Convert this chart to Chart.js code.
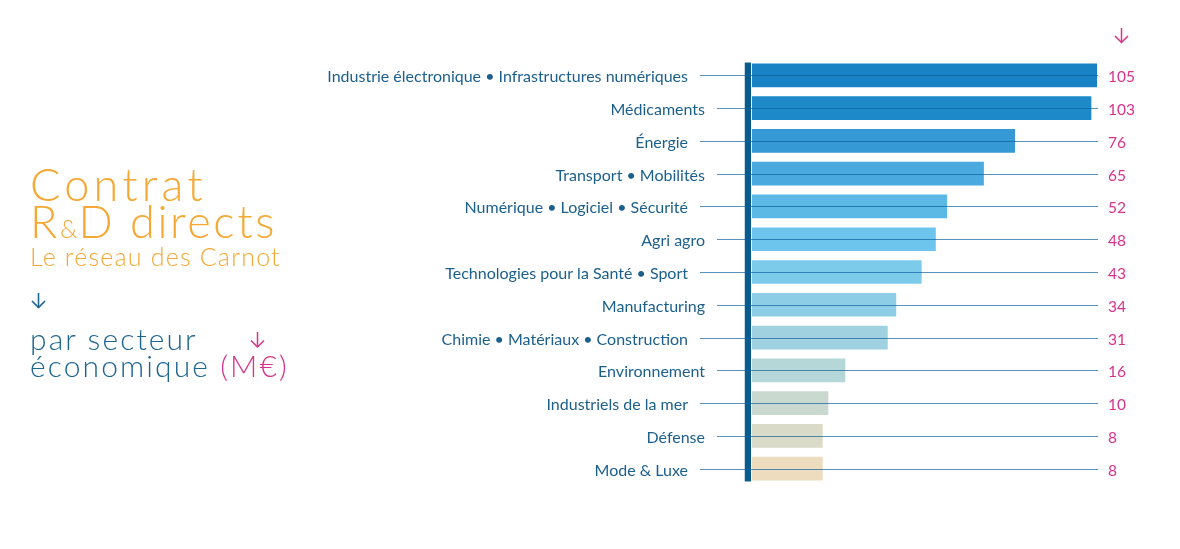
<!DOCTYPE html>
<html lang="fr">
<head>
<meta charset="utf-8">
<script src="https://cdn.jsdelivr.net/npm/chart.js@4.4.1/dist/chart.umd.min.js"></script>
<style>
  html, body { margin: 0; padding: 0; background: #fff; }
  #wrap { position: relative; width: 1180px; height: 549px; overflow: hidden; }
  #chart { position: absolute; left: 0; top: 0; }
  .t { position: absolute; white-space: nowrap; line-height: 1; font-family: Lato, "Open Sans", sans-serif; }
  .orange { color: #f5a833; font-weight: 300; }
  .blue { color: #1d6592; font-weight: 300; }
  .pink { color: #d8338b; }
  svg { position: absolute; overflow: visible; }
</style>
</head>
<body>
<div id="wrap">
  <canvas id="chart" width="1180" height="549"></canvas>

  <div class="t orange" style="left:30px; top:162px; font-size:45px; letter-spacing:4.2px;">Contrat</div>
  <div class="t orange" style="left:30px; top:199px; font-size:45px; letter-spacing:2.6px;">R<span style="font-size:25px; letter-spacing:1px;">&amp;</span>D directs</div>
  <div class="t orange" style="left:30px; top:244px; font-size:25px; letter-spacing:1.2px;">Le réseau des Carnot</div>

  <svg style="left:31px; top:293px;" width="15" height="16">
    <line x1="7.5" y1="0" x2="7.5" y2="14.5" stroke="#1d6592" stroke-width="1.6"/>
    <polyline points="1,8 7.5,14.5 14,8" fill="none" stroke="#1d6592" stroke-width="1.6"/>
  </svg>

  <div class="t blue" style="left:30px; top:323px; font-size:30px; letter-spacing:2.1px;">par secteur</div>
  <div class="t blue" style="left:30px; top:350px; font-size:30px; letter-spacing:2.1px;">économique <span class="pink">(M€)</span></div>

  <svg style="left:249px; top:332px;" width="17" height="16">
    <line x1="8.5" y1="0" x2="8.5" y2="15" stroke="#d8338b" stroke-width="1.5"/>
    <polyline points="2,8.5 8.5,15 15,8.5" fill="none" stroke="#d8338b" stroke-width="1.5"/>
  </svg>

  <svg style="left:1113px; top:28px;" width="17" height="15">
    <line x1="8.5" y1="0" x2="8.5" y2="14.5" stroke="#d8338b" stroke-width="1.5"/>
    <polyline points="2,8 8.5,14.5 15,8" fill="none" stroke="#d8338b" stroke-width="1.5"/>
  </svg>
</div>

<script>
// ---- data ----
const categories = [
  "Industrie électronique • Infrastructures numériques",
  "Médicaments",
  "Énergie",
  "Transport • Mobilités",
  "Numérique • Logiciel • Sécurité",
  "Agri agro",
  "Technologies pour la Santé • Sport",
  "Manufacturing",
  "Chimie • Matériaux • Construction",
  "Environnement",
  "Industriels de la mer",
  "Défense",
  "Mode & Luxe"
];
const values = [105, 103, 76, 65, 52, 48, 43, 34, 31, 16, 10, 8, 8];
const valueLabels = values.map(String);

// ---- styles ----
const barColors = [
  "#1882c4", "#1e89c9", "#3499d4", "#4aaadf", "#5cb9e6", "#6dc5ee",
  "#7ccbeb", "#8dcde6", "#a0d1e0", "#b5d7d8", "#c9d9d0", "#d9dac8", "#eedcbe"
];
const AXIS_MIN = -17.7;   // axis starts left of zero, as in the original
const AXIS_MAX = 105;
const labelFont = "16px Lato, 'Open Sans', sans-serif";
const valueFont = "15.5px Lato, 'Open Sans', sans-serif";

const decor = {
  id: "decor",
  afterDatasetsDraw(chart) {
    const ctx = chart.ctx;
    const xs = chart.scales.x, ys = chart.scales.y;
    const meta = chart.getDatasetMeta(0);
    const first = meta.data[0], last = meta.data[meta.data.length - 1];
    const top = first.y - first.height / 2;
    const bottom = last.y + last.height / 2;
    ctx.save();
    // axis bar
    ctx.fillStyle = "#c3d7e5";
    ctx.fillRect(xs.left - 7, top, 1, bottom - top);
    ctx.fillStyle = "#085c8c";
    ctx.fillRect(xs.left - 6, top, 6, bottom - top);
    // row lines
    ctx.lineWidth = 1;
    ctx.strokeStyle = "rgba(10,95,155,0.68)";
    categories.forEach((c, i) => {
      const y = Math.round(ys.getPixelForValue(i)) + 0.5;
      const x0 = xs.left - (i % 2 ? 34 : 51);
      ctx.beginPath();
      ctx.moveTo(x0, y);
      ctx.lineTo(xs.right, y);
      ctx.stroke();
    });
    // category labels
    ctx.font = labelFont;
    ctx.fillStyle = "#1b5f8d";
    ctx.textAlign = "right";
    ctx.textBaseline = "alphabetic";
    categories.forEach((c, i) => {
      const y = ys.getPixelForValue(i);
      ctx.fillText(c, xs.left - (i % 2 ? 46 : 63), y + 7);
    });
    // value labels
    ctx.font = valueFont;
    ctx.fillStyle = "#d8338b";
    ctx.textAlign = "left";
    valueLabels.forEach((v, i) => {
      const y = ys.getPixelForValue(i);
      ctx.fillText(v, xs.right + 10, y + 7);
    });
    ctx.restore();
  }
};

new Chart(document.getElementById("chart"), {
  type: "bar",
  data: {
    labels: categories,
    datasets: [{
      data: values,
      base: AXIS_MIN,
      backgroundColor: barColors,
      borderColor: "rgba(255,255,255,0.35)",
      borderWidth: 1,
      borderSkipped: false,
      barPercentage: 0.784,
      categoryPercentage: 1
    }]
  },
  options: {
    indexAxis: "y",
    responsive: false,
    animation: false,
    devicePixelRatio: 1,
    layout: { padding: { left: 751, right: 82, top: 59, bottom: 64 } },
    plugins: { legend: { display: false }, tooltip: { enabled: false } },
    scales: {
      x: { display: false, min: AXIS_MIN, max: AXIS_MAX },
      y: { display: false, offset: true }
    }
  },
  plugins: [decor]
});
</script>
</body>
</html>
